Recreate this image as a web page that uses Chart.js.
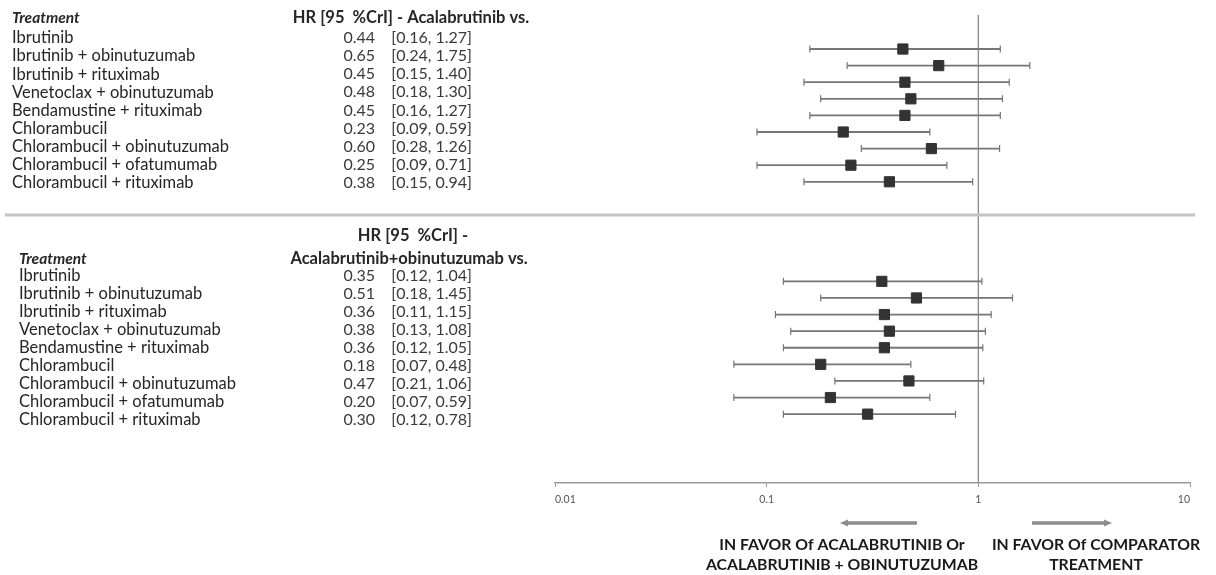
<!DOCTYPE html>
<html lang="en">
<head>
<meta charset="UTF-8">
<title>Acalabrutinib - hazard ratios vs. comparators</title>
<script src="https://cdn.jsdelivr.net/npm/chart.js@4.4.1/dist/chart.umd.min.js"></script>
<style>
    html, body { margin: 0; padding: 0; background: #fff; }
</style>
</head>
<body>
<canvas id="forest" width="1216" height="575"></canvas>

<script>
    const treatments = [
        'Ibrutinib',
        'Ibrutinib + obinutuzumab',
        'Ibrutinib + rituximab',
        'Venetoclax + obinutuzumab',
        'Bendamustine + rituximab',
        'Chlorambucil',
        'Chlorambucil + obinutuzumab',
        'Chlorambucil + ofatumumab',
        'Chlorambucil + rituximab'
    ];

    // Acalabrutinib vs. comparator
    const hrAcala = [0.44, 0.65, 0.45, 0.48, 0.45, 0.23, 0.60, 0.25, 0.38];
    const loAcala = [0.16, 0.24, 0.15, 0.18, 0.16, 0.09, 0.28, 0.09, 0.15];
    const hiAcala = [1.27, 1.75, 1.40, 1.30, 1.27, 0.59, 1.26, 0.71, 0.94];

    // Acalabrutinib + obinutuzumab vs. comparator
    const hrCombo = [0.35, 0.51, 0.36, 0.38, 0.36, 0.18, 0.47, 0.20, 0.30];
    const loCombo = [0.12, 0.18, 0.11, 0.13, 0.12, 0.07, 0.21, 0.07, 0.12];
    const hiCombo = [1.04, 1.45, 1.15, 1.08, 1.05, 0.48, 1.06, 0.59, 0.78];

    const xTicks = [0.01, 0.1, 1, 10];
    const xTickLabels = ['0.01', '0.1', '1', '10'];

    const headerTop = 'HR [95  %CrI] - Acalabrutinib vs.';
    const headerBottom = ['HR [95  %CrI] -', 'Acalabrutinib+obinutuzumab vs.'];
    const favourLeft = ['IN FAVOR Of ACALABRUTINIB Or', 'ACALABRUTINIB + OBINUTUZUMAB'];
    const favourRight = ['IN FAVOR Of COMPARATOR', 'TREATMENT'];

    const FONT = 'Lato, "Liberation Sans", sans-serif';
    const PANEL2 = 14; // row offset of the second block

    function rows(hr, lo, hi, offset) {
        return hr.map((v, i) => ({ x: v, y: i + offset, lo: lo[i], hi: hi[i] }));
    }

    function fmt(v) { return v.toFixed(2); }

    // CrI whiskers + the HR = 1 line, drawn under the squares
    const whiskers = {
        id: 'whiskers',
        beforeDatasetsDraw(chart) {
            const { ctx, chartArea, scales: { x, y } } = chart;
            ctx.save();
            const x1 = x.getPixelForValue(1);
            ctx.strokeStyle = '#8a8a8a';
            ctx.lineWidth = 1.3;
            ctx.beginPath();
            ctx.moveTo(x1, chartArea.top);
            ctx.lineTo(x1, chartArea.bottom);
            ctx.stroke();

            ctx.strokeStyle = '#767676';
            chart.data.datasets.forEach(ds => {
                ds.data.forEach(p => {
                    const a = x.getPixelForValue(p.lo);
                    const b = x.getPixelForValue(p.hi);
                    const py = y.getPixelForValue(p.y);
                    ctx.lineWidth = 1.8;
                    ctx.beginPath();
                    ctx.moveTo(a, py);
                    ctx.lineTo(b, py);
                    ctx.stroke();
                    ctx.lineWidth = 1.2;
                    ctx.beginPath();
                    ctx.moveTo(a, py - 3.5); ctx.lineTo(a, py + 3.5);
                    ctx.moveTo(b, py - 3.5); ctx.lineTo(b, py + 3.5);
                    ctx.stroke();
                });
            });
            ctx.restore();
        }
    };

    function arrow(ctx, from, to, y) {
        const dir = Math.sign(to - from);
        ctx.beginPath();
        ctx.moveTo(from, y);
        ctx.lineTo(to - dir * 6, y);
        ctx.stroke();
        ctx.beginPath();
        ctx.moveTo(to, y);
        ctx.lineTo(to - dir * 8, y - 3.5);
        ctx.lineTo(to - dir * 8, y + 3.5);
        ctx.closePath();
        ctx.fill();
    }

    // left-hand table, panel divider and the favour captions
    const tableText = {
        id: 'tableText',
        afterDraw(chart) {
            const ctx = chart.ctx;
            ctx.save();

            ctx.strokeStyle = '#c4c4c4';
            ctx.lineWidth = 3;
            ctx.beginPath();
            ctx.moveTo(5, 215);
            ctx.lineTo(1195, 215);
            ctx.stroke();

            ctx.textBaseline = 'middle';
            ctx.fillStyle = '#262626';

            ctx.textAlign = 'left';
            ctx.font = 'italic bold 15.5px ' + FONT;
            ctx.fillText('Treatment', 12, 18);
            ctx.fillText('Treatment', 19, 259);

            ctx.textAlign = 'center';
            ctx.font = 'bold 16.5px ' + FONT;
            ctx.fillText(headerTop, 411, 18);
            ctx.fillText(headerBottom[0], 413, 236);
            ctx.fillText(headerBottom[1], 409, 259);

            const blocks = [
                { hr: hrAcala, lo: loAcala, hi: hiAcala, nameX: 12, top: 38, step: 18.1 },
                { hr: hrCombo, lo: loCombo, hi: hiCombo, nameX: 19, top: 276, step: 18.0 }
            ];
            blocks.forEach(b => {
                treatments.forEach((t, i) => {
                    const ty = b.top + i * b.step;
                    ctx.fillStyle = '#262626';
                    ctx.textAlign = 'left';
                    ctx.font = '16.5px ' + FONT;
                    ctx.fillText(t, b.nameX, ty);
                    ctx.fillStyle = '#3a3a3a';
                    ctx.font = '16px ' + FONT;
                    ctx.textAlign = 'right';
                    ctx.fillText(fmt(b.hr[i]), 375, ty);
                    ctx.fillText('[' + fmt(b.lo[i]) + ', ' + fmt(b.hi[i]) + ']', 472, ty);
                });
            });

            // direction arrows
            ctx.strokeStyle = '#8c8c8c';
            ctx.fillStyle = '#8c8c8c';
            ctx.lineWidth = 3.5;
            arrow(ctx, 917, 840, 523);
            arrow(ctx, 1032, 1112, 523);

            ctx.fillStyle = '#1a1a1a';
            ctx.textAlign = 'center';
            ctx.font = 'bold 15.8px ' + FONT;
            ctx.fillText(favourLeft[0], 842, 545);
            ctx.fillText(favourLeft[1], 842, 565);
            ctx.fillText(favourRight[0], 1096, 545);
            ctx.fillText(favourRight[1], 1096, 565);

            ctx.restore();
        }
    };

    const ctx = document.getElementById('forest').getContext('2d');

    const config = {
        type: 'scatter',
        data: {
            datasets: [
                {
                    label: 'Acalabrutinib vs.',
                    data: rows(hrAcala, loAcala, hiAcala, 0),
                    pointStyle: 'rect',
                    pointRadius: 7.2,
                    backgroundColor: '#333333',
                    borderColor: '#333333',
                    borderWidth: 1
                },
                {
                    label: 'Acalabrutinib+obinutuzumab vs.',
                    data: rows(hrCombo, loCombo, hiCombo, PANEL2),
                    pointStyle: 'rect',
                    pointRadius: 7.2,
                    backgroundColor: '#333333',
                    borderColor: '#333333',
                    borderWidth: 1
                }
            ]
        },
        options: {
            responsive: false,
            animation: false,
            devicePixelRatio: 1,
            layout: { padding: { left: 555, right: 26, top: 15, bottom: 68 } },
            plugins: {
                legend: { display: false },
                tooltip: { enabled: false }
            },
            scales: {
                x: {
                    type: 'logarithmic',
                    min: 0.01,
                    max: 10,
                    afterBuildTicks: s => { s.ticks = xTicks.map(v => ({ value: v })); },
                    afterFit: s => { s.height = 24; },
                    border: { color: '#9a9a9a', width: 1.5 },
                    grid: { drawOnChartArea: false, tickLength: 4, color: '#9a9a9a' },
                    ticks: {
                        autoSkip: false,
                        maxRotation: 0,
                        align: 'inner',
                        padding: 6,
                        color: '#555',
                        font: { size: 10.5, family: FONT },
                        callback: (v, i) => xTickLabels[i]
                    }
                },
                y: {
                    display: false,
                    reverse: true,
                    min: -2.05,
                    max: 26.15
                }
            }
        },
        plugins: [whiskers, tableText]
    };

    new Chart(ctx, config);
</script>
</body>
</html>
